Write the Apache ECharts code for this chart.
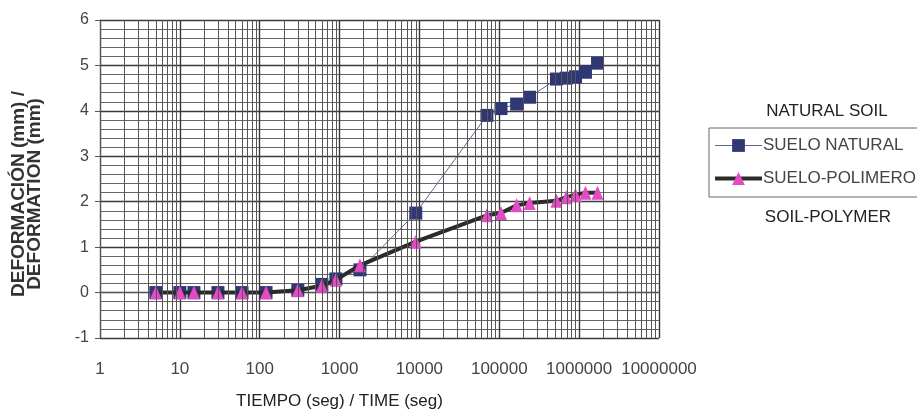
<!DOCTYPE html>
<html>
<head>
<meta charset="utf-8">
<script src="https://cdn.jsdelivr.net/npm/echarts@6/dist/echarts.min.js"></script>
<style>html,body{margin:0;padding:0;background:#fff}#c{width:917px;height:415px}</style>
</head>
<body>
<div id="c"></div>
<script>
// Time (s) of each reading
var times = [5, 10, 15, 30, 60, 120, 300, 600, 900, 1800, 9000, 70000, 105000, 165000, 240000, 520000, 690000, 900000, 1200000, 1700000];
// Deformation (mm)
var sueloNatural = [0, 0, 0, 0, 0, 0, 0.05, 0.18, 0.3, 0.5, 1.75, 3.9, 4.05, 4.15, 4.3, 4.7, 4.72, 4.75, 4.85, 5.05];
var sueloPolimero = [0, 0, 0, 0, 0, 0, 0.05, 0.15, 0.28, 0.6, 1.12, 1.7, 1.75, 1.92, 1.97, 2.02, 2.1, 2.15, 2.2, 2.2];
var xTicks = [1, 10, 100, 1000, 10000, 100000, 1000000, 10000000];
var yTicks = [-1, 0, 1, 2, 3, 4, 5, 6];

var FONT = "'Liberation Sans', Arial, sans-serif";

function pairs(xs, ys) { return xs.map(function (x, i) { return [x, ys[i]]; }); }

// minor vertical grid lines at 2..9 of each decade
var minorX = [];
for (var d = 0; d < xTicks.length - 1; d++) {
  for (var m = 2; m <= 9; m++) minorX.push({ xAxis: xTicks[d] * m });
}

var chart = echarts.init(document.getElementById('c'), null, { renderer: 'canvas' });
chart.setOption({
  animation: false,
  backgroundColor: '#ffffff',
  grid: { left: 100, top: 20, width: 559, height: 318, containLabel: false },
  xAxis: {
    type: 'log', logBase: 10, min: 1, max: 10000000,
    name: 'TIEMPO (seg) / TIME (seg)', nameLocation: 'middle', nameGap: 55,
    nameTextStyle: { fontFamily: FONT, fontSize: 17, color: '#222', padding: [0, 80, 0, 0] },
    axisLine: { show: true, lineStyle: { color: '#555', width: 1 } },
    axisTick: { show: false },
    axisLabel: { fontFamily: FONT, fontSize: 17, color: '#444', margin: 23,
      formatter: function (v) { return String(Math.round(v)); } },
    splitLine: { show: true, lineStyle: { color: '#3a3a3a', width: 1.4 } },
    minorTick: { show: false }, minorSplitLine: { show: false }
  },
  yAxis: {
    type: 'value', min: -1, max: 6, interval: 1,
    name: 'DEFORMACIÓN (mm) /\nDEFORMATION (mm)', nameLocation: 'middle', nameGap: 57,
    nameTextStyle: { fontFamily: FONT, fontSize: 19, fontWeight: 'bold', color: '#333', lineHeight: 16, padding: [0, 30, 0, 0] },
    axisLine: { show: true, lineStyle: { color: '#555', width: 1 } },
    axisTick: { show: true, length: 5, lineStyle: { color: '#555' } },
    axisLabel: { fontFamily: FONT, fontSize: 16, color: '#444', margin: 11,
      formatter: function (v) { return String(v); } },
    splitLine: { show: true, lineStyle: { color: '#3a3a3a', width: 1.3 } },
    minorTick: { show: false, splitNumber: 5 },
    minorSplitLine: { show: true, lineStyle: { color: '#666', width: 1 } }
  },
  legend: {
    orient: 'vertical', left: 709, top: 128,
    padding: [9, 30, 10, 4], itemGap: 16, itemWidth: 47, itemHeight: 16,
    borderColor: '#666', borderWidth: 1,
    textStyle: { fontFamily: FONT, fontSize: 17, color: '#444', lineHeight: 16, padding: [0, 0, 0, -4] },
    data: [
      { name: 'SUELO NATURAL', lineStyle: { width: 1 } },
      { name: 'SUELO-POLIMERO', lineStyle: { width: 4 } }
    ]
  },
  graphic: [
    { type: 'text', x: 827, y: 111, style: { text: 'NATURAL SOIL', fontFamily: FONT, fontSize: 17, fill: '#222', align: 'center', verticalAlign: 'middle' } },
    { type: 'text', x: 828, y: 217, style: { text: 'SOIL-POLYMER', fontFamily: FONT, fontSize: 17, fill: '#222', align: 'center', verticalAlign: 'middle' } }
  ],
  series: [
    {
      name: 'grid-minor', type: 'line', data: [], silent: true, z: 0,
      markLine: {
        silent: true, symbol: ['none', 'none'], label: { show: false },
        lineStyle: { color: '#555', width: 1, type: 'solid' },
        emphasis: { disabled: true },
        data: minorX
      }
    },
    {
      name: 'SUELO NATURAL', type: 'line', z: 3,
      data: pairs(times, sueloNatural),
      symbol: 'rect', symbolSize: 13,
      itemStyle: { color: '#2f3875' },
      lineStyle: { color: '#5c6b8c', width: 1 }
    },
    {
      name: 'SUELO-POLIMERO', type: 'line', z: 4,
      data: pairs(times, sueloPolimero),
      symbol: 'triangle', symbolSize: [12, 14],
      itemStyle: { color: '#e24bc4' },
      lineStyle: { color: '#2b2b2b', width: 4 }
    }
  ]
});
</script>
</body>
</html>
